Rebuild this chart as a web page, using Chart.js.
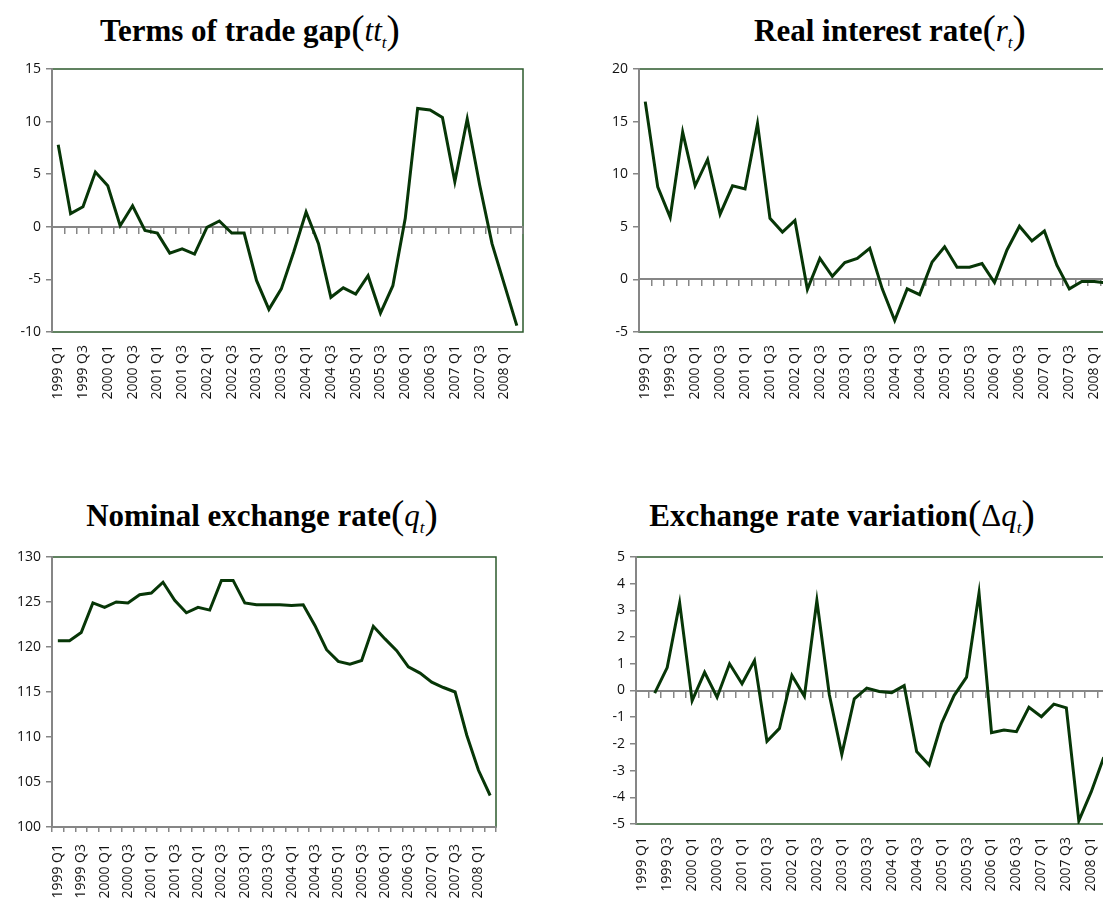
<!DOCTYPE html>
<html>
<head>
<meta charset="utf-8">
<script src="https://cdn.jsdelivr.net/npm/chart.js@4.4.1/dist/chart.umd.min.js"></script>
<style>
  html, body { margin:0; padding:0; background:#fff; width:1103px; height:908px; overflow:hidden; position:relative; }
  canvas { position:absolute; }
  .ttl { position:absolute; width:600px; text-align:center; white-space:nowrap; line-height:1;
         font-family:'Liberation Serif','Times New Roman',serif; font-weight:bold; font-size:31px; color:#000; }
  .ttl .p { font-weight:normal; font-size:40px; line-height:0; position:relative; top:2px; }
  .ttl i, .ttl .m { font-weight:normal; line-height:0; }
  .ttl sub { font-size:17px; font-style:italic; line-height:0; }
</style>
</head>
<body>
<div class="ttl" style="left:-50px; top:15px;">Terms of trade gap<span class="p">(</span><i>tt<sub>t</sub></i><span class="p">)</span></div>
<div class="ttl" style="left:590px; top:15px;">Real interest rate<span class="p">(</span><i>r<sub>t</sub></i><span class="p">)</span></div>
<div class="ttl" style="left:-38px; top:500px;">Nominal exchange rate<span class="p">(</span><i>q<sub>t</sub></i><span class="p">)</span></div>
<div class="ttl" style="left:542px; top:500px;">Exchange rate variation<span class="p">(</span><span class="m">&Delta;</span><i>q<sub>t</sub></i><span class="p">)</span></div>

<canvas id="c1" width="535" height="365" style="left:0px; top:55px;"></canvas>
<canvas id="c2" width="540" height="365" style="left:587px; top:55px;"></canvas>
<canvas id="c3" width="510" height="365" style="left:0px; top:543px;"></canvas>
<canvas id="c4" width="540" height="365" style="left:584px; top:543px;"></canvas>

<script>
// quarterly observations, 1999 Q1 .. 2008 Q2
const quarters = [
  '1999 Q1','1999 Q2','1999 Q3','1999 Q4','2000 Q1','2000 Q2','2000 Q3','2000 Q4',
  '2001 Q1','2001 Q2','2001 Q3','2001 Q4','2002 Q1','2002 Q2','2002 Q3','2002 Q4',
  '2003 Q1','2003 Q2','2003 Q3','2003 Q4','2004 Q1','2004 Q2','2004 Q3','2004 Q4',
  '2005 Q1','2005 Q2','2005 Q3','2005 Q4','2006 Q1','2006 Q2','2006 Q3','2006 Q4',
  '2007 Q1','2007 Q2','2007 Q3','2007 Q4','2008 Q1','2008 Q2'
];

const termsOfTradeGap = [
  7.8, 1.25, 1.9, 5.2, 3.9, 0.1, 2.0, -0.35, -0.6, -2.5, -2.1, -2.6, -0.05, 0.55, -0.6, -0.6,
  -5.1, -7.85, -5.9, -2.4, 1.4, -1.6, -6.7, -5.8, -6.4, -4.65, -8.2, -5.6, 0.8, 11.25, 11.1, 10.4,
  4.3, 10.25, 4.0, -1.6, -5.5, -9.4
];

const realInterestRate = [
  16.9, 8.8, 5.9, 14.0, 8.9, 11.4, 6.2, 8.9, 8.6, 14.8, 5.8, 4.5, 5.6, -0.95, 2.0, 0.3,
  1.6, 2.0, 2.95, -0.9, -3.9, -0.9, -1.45, 1.65, 3.1, 1.15, 1.15, 1.5, -0.3, 2.8, 5.05, 3.65,
  4.6, 1.35, -0.9, -0.2, -0.2, -0.35
];

const nominalExchangeRate = [
  120.7, 120.7, 121.6, 124.9, 124.4, 125.0, 124.9, 125.8, 126.0, 127.2, 125.2, 123.8, 124.4, 124.1, 127.4, 127.4,
  124.9, 124.7, 124.7, 124.7, 124.6, 124.7, 122.4, 119.7, 118.4, 118.1, 118.5, 122.3, 120.9, 119.6, 117.8, 117.1,
  116.1, 115.5, 115.0, 110.2, 106.3, 103.5
];

const exchangeRateVariation = [
  null, -0.1, 0.86, 3.28, -0.38, 0.68, -0.25, 1.0, 0.25, 1.12, -1.9, -1.42, 0.56, -0.22, 3.37, -0.16,
  -2.39, -0.31, 0.09, -0.04, -0.08, 0.18, -2.29, -2.79, -1.23, -0.19, 0.5, 3.65, -1.58, -1.48, -1.54, -0.63,
  -0.98, -0.51, -0.65, -4.88, -3.79, -2.5
];

const AXIS_GREY = '#868686';
const FRAME_GREEN = '#2c5a2c';
const LINE_GREEN = '#073607';
const TICK_FONT = { family: "'Open Sans', sans-serif", size: 14 };

// plot-area border (drawn first, axes paint over the left / zero side)
const plotFrame = {
  id: 'plotFrame',
  beforeDraw(chart){
    const a = chart.chartArea, ctx = chart.ctx;
    ctx.save();
    ctx.strokeStyle = FRAME_GREEN;
    ctx.lineWidth = 1.5;
    ctx.strokeRect(a.left, a.top, a.right - a.left, a.bottom - a.top);
    ctx.restore();
  }
};

function makePanel(id, values, p){
  const scales = {
    x: {
      type: 'category',
      offset: true,
      border: p.zeroLine ? { display:false } : { display:true, color:AXIS_GREY, width:2 },
      grid: p.zeroLine
        ? { display:false, drawTicks:false }
        : { offset:true, drawOnChartArea:false, drawTicks:true, tickLength:5, color:AXIS_GREY, lineWidth:1.5 },
      ticks: {
        autoSkip:false, maxRotation:90, minRotation:90, padding: p.zeroLine ? 13 : 12,
        color:'#111', font:TICK_FONT,
        callback: (v, i) => (i % 2 === 0 ? quarters[i] : '')
      },
      afterFit(s){ s.height = p.xH; s.paddingLeft = 0; s.paddingRight = 0; }
    },
    y: {
      position:'left',
      min:p.min, max:p.max,
      border:{ display:true, color:AXIS_GREY, width:2 },
      grid:{ drawOnChartArea:false, drawTicks:true, tickLength:6, color:AXIS_GREY, lineWidth:1.5 },
      ticks:{ stepSize:p.step, padding:5, color:'#111', font:TICK_FONT },
      afterFit(s){ s.width = 52; }
    }
  };
  if (p.zeroLine){
    // horizontal category axis crossing at zero, ticks only
    scales.x2 = {
      type:'category',
      offset:true,
      position:{ y:0 },
      border:{ display:true, color:AXIS_GREY, width:2 },
      grid:{ offset:true, drawOnChartArea:false, drawTicks:true, tickLength:6, color:AXIS_GREY, lineWidth:1.5 },
      ticks:{ display:false },
      afterFit(s){ s.paddingLeft = 0; s.paddingRight = 0; }
    };
  }
  return new Chart(document.getElementById(id), {
    type:'line',
    data:{ labels:quarters, datasets:[{ data:values, borderColor:LINE_GREEN, borderWidth:3, pointRadius:0, tension:0, fill:false }] },
    options:{
      responsive:false, animation:false,
      layout:{ padding:{ top:14, right:p.padR, left:0, bottom:0 } },
      plugins:{ legend:{ display:false }, tooltip:{ enabled:false } },
      scales
    },
    plugins:[plotFrame]
  });
}

makePanel('c1', termsOfTradeGap,       { min:-10, max:15,  step:5, xH:88, padR:12, zeroLine:true });
makePanel('c2', realInterestRate,      { min:-5,  max:20,  step:5, xH:88, padR:14, zeroLine:true });
makePanel('c3', nominalExchangeRate,   { min:100, max:130, step:5, xH:81, padR:14, zeroLine:false });
makePanel('c4', exchangeRateVariation, { min:-5,  max:5,   step:1, xH:84, padR:14, zeroLine:true });
</script>
</body>
</html>
